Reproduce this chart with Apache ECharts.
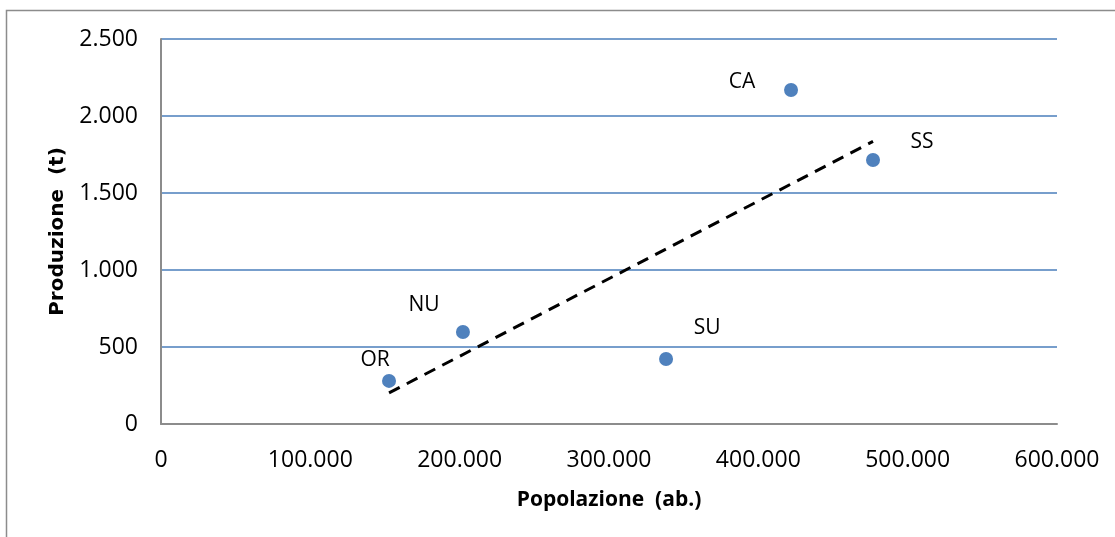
<!DOCTYPE html>
<html><head><meta charset="utf-8">
<script src="https://cdn.jsdelivr.net/npm/echarts@6/dist/echarts.min.js"></script>
<style>html,body{margin:0;padding:0;background:#fff}#c{width:1115px;height:537px}</style>
</head><body><div id="c"></div>
<script>
// Data
var provinces = ['OR', 'NU', 'SU', 'CA', 'SS'];
var popolazione = [152700, 202200, 338200, 421900, 476800];
var produzione = [280, 597, 422, 2169, 1714];
var xTicks = [0, 100000, 200000, 300000, 400000, 500000, 600000];
var yTicks = [0, 500, 1000, 1500, 2000, 2500];

// label placement (layout only)
var labelOffsets = {OR: [-14, -21], NU: [-39, -27], SU: [41, -31], CA: [-49, -8], SS: [49, -18]};

function fmt(v) { return String(v).replace(/\B(?=(\d{3})+(?!\d))/g, '.'); }

// linear regression trend line
var n = popolazione.length, mx = 0, my = 0;
for (var i = 0; i < n; i++) { mx += popolazione[i]; my += produzione[i]; }
mx /= n; my /= n;
var sxy = 0, sxx = 0;
for (i = 0; i < n; i++) { sxy += (popolazione[i] - mx) * (produzione[i] - my); sxx += (popolazione[i] - mx) * (popolazione[i] - mx); }
var slope = sxy / sxx, icpt = my - slope * mx;
var xmin = Math.min.apply(null, popolazione), xmax = Math.max.apply(null, popolazione);
var trend = [[xmin, icpt + slope * xmin], [xmax, icpt + slope * xmax]];

var FONT = 'Open Sans';
var chart = echarts.init(document.getElementById('c'), null, {renderer: 'canvas'});
chart.setOption({
  animation: false,
  backgroundColor: '#fff',
  textStyle: {fontFamily: FONT},
  graphic: [{type: 'rect', shape: {x: 6.5, y: 10.5, width: 1200, height: 600}, style: {fill: 'none', stroke: '#8c8c8c', lineWidth: 1.5}, silent: true}],
  grid: {left: 161, right: 58, top: 39, bottom: 113},
  xAxis: {
    type: 'value', min: 0, max: 600000, interval: 100000,
    name: 'Popolazione  (ab.)', nameLocation: 'middle', nameGap: 66,
    nameTextStyle: {fontFamily: FONT, fontWeight: 'bold', fontSize: 21, color: '#000'},
    axisLine: {show: true, onZero: false, lineStyle: {color: '#8c8c8c', width: 2}},
    axisTick: {show: false},
    splitLine: {show: false},
    axisLabel: {fontFamily: FONT, fontSize: 23, color: '#000', margin: 25, formatter: fmt}
  },
  yAxis: {
    type: 'value', min: 0, max: 2500, interval: 500,
    name: 'Produzione  (t)', nameLocation: 'middle', nameGap: 93,
    nameTextStyle: {fontFamily: 'DejaVu Sans', fontWeight: 'bold', fontSize: 20, color: '#000'},
    axisLine: {show: true, lineStyle: {color: '#8c8c8c', width: 2}},
    axisTick: {show: false},
    splitLine: {show: true, lineStyle: {color: '#4a7ebb', width: 1.5}},
    axisLabel: {fontFamily: FONT, fontSize: 23, color: '#000', margin: 23, formatter: fmt}
  },
  series: [
    {
      type: 'line', data: trend, symbol: 'none', silent: true, z: 3,
      lineStyle: {color: '#000', width: 3, type: [12, 8]}
    },
    {
      type: 'scatter', symbolSize: 14, z: 4,
      itemStyle: {color: '#4f81bd', opacity: 1},
      data: provinces.map(function (p, i) {
        return {value: [popolazione[i], produzione[i]], name: p,
          label: {show: true, position: 'inside', offset: labelOffsets[p], formatter: p,
            fontFamily: FONT, fontSize: 21, color: '#000'}};
      })
    }
  ]
});
</script></body></html>
